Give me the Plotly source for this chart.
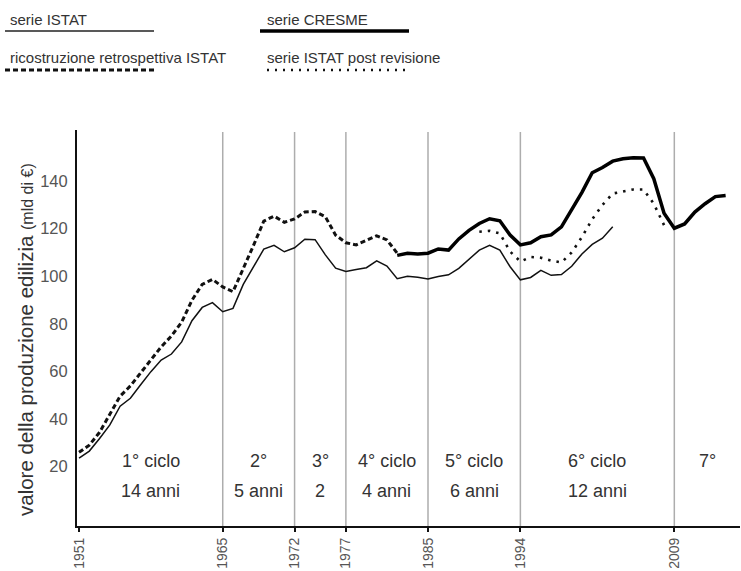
import plotly.graph_objects as go

# ---------------- data ----------------
istat_years = list(range(1951, 2004))
istat_vals = [23.5, 26.5, 31.8, 37.5, 45.4, 48.7, 54.4, 59.9, 64.8, 67.3,
              72.4, 81.3, 86.9, 88.9, 85.1, 86.5, 96.6, 104.2, 111.4, 113.0,
              110.3, 112.0, 115.6, 115.4, 109.0, 103.4, 102.0, 102.8, 103.6, 106.5,
              104.3, 99.0, 100.0, 99.6, 98.9, 99.9, 100.6, 103.3, 107.0, 111.0,
              113.0, 111.0, 104.0, 98.5, 99.5, 102.5, 100.4, 100.7, 104.2, 109.4,
              113.4, 116.0, 120.8]

retro_years = list(range(1951, 1983))
retro_vals = [26.0, 29.0, 34.4, 41.7, 49.6, 53.9, 59.4, 65.1, 70.3, 74.9,
              80.7, 89.9, 96.6, 98.7, 95.5, 93.5, 103.1, 113.0, 123.2, 125.3,
              122.7, 124.1, 127.0, 127.2, 125.0, 117.3, 114.1, 113.2, 115.1, 117.0,
              115.3, 109.7]

cresme_years = list(range(1982, 2015))
cresme_vals = [108.8, 109.7, 109.4, 109.7, 111.5, 111.0, 115.7, 119.3, 122.2, 124.2,
               123.3, 117.3, 113.2, 114.1, 116.6, 117.4, 120.8, 128.0, 135.3, 143.5,
               145.7, 148.4, 149.4, 149.8, 149.7, 141.0, 126.5, 120.2, 122.0, 127.0,
               130.5, 133.5, 134.0]

post_years = list(range(1990, 2009))
post_vals = [118.7, 119.1, 118.0, 110.4, 106.2, 108.1, 107.8, 106.6, 105.8, 110.0,
             116.5, 124.0, 130.0, 134.8, 135.6, 136.5, 136.5, 130.5, 121.5]

cycle_bounds = [1951, 1965, 1972, 1977, 1985, 1994, 2009]
cycle_titles = ["1° ciclo", "2°", "3°", "4° ciclo", "5° ciclo", "6° ciclo", "7°"]
cycle_lengths = ["14 anni", "5 anni", "2", "4 anni", "6 anni", "12 anni", ""]

legend_labels = ["serie ISTAT", "serie CRESME",
                 "ricostruzione retrospettiva ISTAT", "serie ISTAT post revisione"]

y_title = "valore della produzione edilizia"
y_unit = "(mld di €)"

# ---------------- layout constants ----------------
X_RANGE = [1950.8, 2015.4]
Y_RANGE = [-5, 161.5]
ML, MR, MT, MB = 77, 1, 130, 45
W, H = 741, 571
PW = W - ML - MR
PH = H - MT - MB
FONT = "Liberation Sans, Arial, Helvetica, sans-serif"


def px(xp):
    return (xp - ML) / PW


def py(yp):
    return (H - MB - yp) / PH


fig = go.Figure()

fig.add_trace(go.Scatter(x=retro_years, y=retro_vals, mode="lines",
                         line=dict(color="#111", width=3, dash="5px,3px"),
                         name=legend_labels[2]))
fig.add_trace(go.Scatter(x=istat_years, y=istat_vals, mode="lines",
                         line=dict(color="#111", width=1.5),
                         name=legend_labels[0]))
fig.add_trace(go.Scatter(x=post_years, y=post_vals, mode="lines",
                         line=dict(color="#111", width=2.6, dash="2.5px,6px"),
                         name=legend_labels[3]))
fig.add_trace(go.Scatter(x=cresme_years, y=cresme_vals, mode="lines",
                         line=dict(color="#000", width=3.5),
                         name=legend_labels[1]))

shapes = []
for yr in cycle_bounds[1:]:
    shapes.append(dict(type="line", xref="x", yref="paper", x0=yr, x1=yr,
                       y0=0, y1=py(132), line=dict(color="#adadad", width=1.5),
                       layer="below"))

annotations = []
# cycle labels centred between boundaries
ends = cycle_bounds[1:] + [X_RANGE[1]]
for i, (t, l) in enumerate(zip(cycle_titles, cycle_lengths)):
    xc = (cycle_bounds[i] + ends[i]) / 2
    annotations.append(dict(x=xc, y=22.4, xref="x", yref="y", text=t,
                            showarrow=False, font=dict(size=18, color="#333", family=FONT)))
    if l:
        annotations.append(dict(x=xc, y=9.8, xref="x", yref="y", text=l,
                                showarrow=False, font=dict(size=18, color="#333", family=FONT)))

# legend (manual)
leg_pos = [(8, 19, 5, 154, 31), (265, 19, 260, 409, 31),
           (8, 58, 5, 154, 70), (265, 58, 267, 407, 70)]
leg_styles = [dict(color="#222", width=1.7), dict(color="#000", width=3.5),
              dict(color="#111", width=3, dash="5px,3px"),
              dict(color="#111", width=2.5, dash="2px,6px")]
for lab, (tx, ty, lx0, lx1, ly), st in zip(legend_labels, leg_pos, leg_styles):
    annotations.append(dict(x=px(tx), y=py(ty), xref="paper", yref="paper",
                            xanchor="left", yanchor="middle", text=lab, showarrow=False,
                            font=dict(size=15, color="#333", family=FONT)))
    shapes.append(dict(type="line", xref="paper", yref="paper",
                       x0=px(lx0), x1=px(lx1), y0=py(ly), y1=py(ly), line=st))

# y axis title
annotations.append(dict(x=px(25), y=py(340), xref="paper", yref="paper",
                        xanchor="center", yanchor="middle",
                        text=f"{y_title} <span style='font-size:16px'>{y_unit}</span>",
                        textangle=-90, showarrow=False,
                        font=dict(size=20.5, color="#333", family=FONT)))

fig.update_layout(
    width=W, height=H,
    margin=dict(l=ML, r=MR, t=MT, b=MB),
    paper_bgcolor="white", plot_bgcolor="white",
    showlegend=False,
    shapes=shapes, annotations=annotations,
    font=dict(family=FONT),
    xaxis=dict(range=X_RANGE, tickvals=cycle_bounds,
               ticktext=[str(v) for v in cycle_bounds], tickangle=-90,
               ticks="outside", ticklen=4, tickwidth=1.5, tickcolor="#111",
               showline=True, linecolor="#111", linewidth=2,
               showgrid=False, zeroline=False,
               tickfont=dict(size=14, color="#555", family=FONT)),
    yaxis=dict(range=Y_RANGE, tickvals=[20, 40, 60, 80, 100, 120, 140],
               ticks="", showline=True, linecolor="#111", linewidth=2,
               showgrid=False, zeroline=False, ticklabelstandoff=4,
               tickfont=dict(size=16.5, color="#555", family=FONT)),
)

fig.write_html("out.html", config={"displayModeBar": False},
               post_script="document.body.style.margin='0';document.body.style.padding='0';")
